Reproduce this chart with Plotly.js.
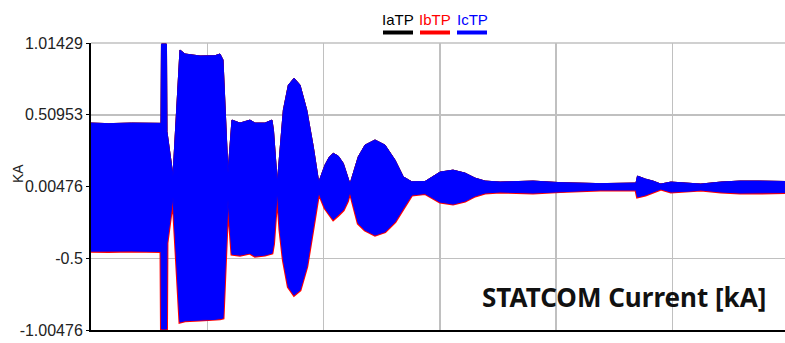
<!DOCTYPE html>
<html>
<head>
<meta charset="utf-8">
<script src="https://cdn.plot.ly/plotly-3.0.1.min.js"></script>
<style>html,body{margin:0;padding:0;background:#fff;}#chart{width:785px;height:343px;}</style>
</head>
<body>
<div id="chart"></div>
<script>
// time axis (grid units, one vertical gridline per unit)
var time = [0, 0.15, 0.35, 0.602, 0.606, 0.649, 0.653, 0.705, 0.765, 0.808, 0.937, 1.066, 1.109, 1.135, 1.178,
  1.212, 1.281, 1.367, 1.410, 1.496, 1.556, 1.569, 1.602, 1.625, 1.654, 1.697, 1.746, 1.797, 1.855, 1.911, 1.958,
  2.012, 2.048, 2.083, 2.126, 2.169, 2.205, 2.227, 2.298, 2.356, 2.442, 2.528, 2.614, 2.685, 2.758, 2.872, 3.001, 3.113,
  3.216, 3.302, 3.388, 3.517, 3.801, 4.033, 4.377, 4.686, 4.699, 4.767, 4.832, 4.900, 4.986, 5.158, 5.244,
  5.416, 5.580, 5.752, 5.967];
// upper envelope of the three phase currents [kA]
var envUpper = [0.451, 0.447, 0.451, 0.449, 1.007, 1.007, 0.391, 0.08, 0.965, 0.937, 0.923, 0.925, 0.937, 0.895, 0.10,
  0.472, 0.451, 0.472, 0.451, 0.451, 0.472, 0.40, 0.03, 0.261, 0.543, 0.719, 0.766, 0.719, 0.543, 0.285, 0.035,
  0.156, 0.211, 0.238, 0.219, 0.168, 0.085, 0.022, 0.214, 0.296, 0.332, 0.296, 0.191, 0.073, 0.038, 0.040, 0.106, 0.120,
  0.099, 0.064, 0.043, 0.036, 0.043, 0.032, 0.025, 0.029, 0.078, 0.057, 0.043, 0.022, 0.036, 0.029, 0.022,
  0.036, 0.043, 0.043, 0.040];
// lower envelope of the three phase currents [kA]
var envLower = [-0.450, -0.452, -0.449, -0.452, -0.998, -0.998, -0.393, -0.07, -0.949, -0.940, -0.935, -0.930, -0.925, -0.921, -0.09,
  -0.471, -0.478, -0.464, -0.485, -0.478, -0.464, -0.40, -0.03, -0.302, -0.513, -0.701, -0.759, -0.724, -0.560, -0.279, -0.038,
  -0.147, -0.189, -0.227, -0.196, -0.161, -0.098, -0.032, -0.255, -0.302, -0.337, -0.314, -0.243, -0.149, -0.055, -0.045, -0.105, -0.119,
  -0.098, -0.062, -0.041, -0.034, -0.041, -0.031, -0.020, -0.020, -0.069, -0.055, -0.034, -0.013, -0.034, -0.027, -0.020,
  -0.034, -0.041, -0.041, -0.038];

var seriesNames = ['IaTP', 'IbTP', 'IcTP'];
var seriesColors = ['#000000', '#ff0000', '#0000ff'];
var yTickVals = [1.01429, 0.50953, 0.00476, -0.5, -1.00476];
var yTickText = ['1.01429', '0.50953', '0.00476', '-0.5', '-1.00476'];

function band(i, lw) {
  var xs = time.concat(time.slice().reverse());
  var ys = envUpper.concat(envLower.slice().reverse());
  return {x: xs, y: ys, type: 'scatter', mode: 'lines', fill: 'toself', fillcolor: seriesColors[i],
    line: {color: seriesColors[i], width: lw}, name: seriesNames[i], hoverinfo: 'skip'};
}
var traces = [
  band(0, 1),
  band(1, 1),
  {x: time, y: envLower, type: 'scatter', mode: 'lines', line: {color: seriesColors[1], width: 3}, hoverinfo: 'skip'},
  band(2, 1)
];

var L = 91, R = 785, T = 43, B = 330;
function px(x) { return (x - L) / (R - L); }
function py(y) { return (B - y) / (B - T); }

var legendX = [398, 435, 472];
var legendBarL = [383, 420, 457];
var annotations = [];
var shapes = [];
for (var i = 0; i < 3; i++) {
  annotations.push({xref: 'paper', yref: 'paper', x: px(legendX[i]), y: py(19.5), text: seriesNames[i], showarrow: false,
    xanchor: 'center', yanchor: 'middle', font: {family: 'Liberation Sans, sans-serif', size: 15, color: seriesColors[i]}});
  shapes.push({type: 'rect', xref: 'paper', yref: 'paper', x0: px(legendBarL[i]), x1: px(legendBarL[i] + 30), y0: py(34.5), y1: py(30.5),
    fillcolor: seriesColors[i], line: {width: 0}});
}
annotations.push({xref: 'paper', yref: 'paper', x: px(18), y: py(174), text: 'KA', textangle: -90, showarrow: false,
  xanchor: 'center', yanchor: 'middle', font: {family: 'Liberation Sans, sans-serif', size: 14, color: '#222'}});
annotations.push({xref: 'paper', yref: 'paper', x: px(624), y: py(297), text: '<b>STATCOM Current [kA]</b>', showarrow: false,
  xanchor: 'center', yanchor: 'middle', font: {family: 'Noto Sans, sans-serif', size: 26, color: '#111'}});
shapes.push({type: 'line', xref: 'paper', yref: 'paper', x0: 0, x1: 1, y0: 1, y1: 1, line: {color: '#c0c0c0', width: 1.5}, layer: 'below'});

var layout = {
  width: 785, height: 343,
  margin: {l: L, r: 785 - R, t: T, b: 343 - B, pad: 0},
  paper_bgcolor: '#fff', plot_bgcolor: '#fff',
  showlegend: false,
  xaxis: {range: [0, (R - L) / 116.3], dtick: 1, tick0: 0, showgrid: true, gridcolor: '#c0c0c0', gridwidth: 1.5,
    showticklabels: false, ticks: '', zeroline: false, showline: true, linecolor: '#000', linewidth: 2},
  yaxis: {range: [-1.00476, 1.01429], tickmode: 'array', tickvals: yTickVals, ticktext: yTickText,
    showgrid: true, gridcolor: '#c0c0c0', gridwidth: 1.5, zeroline: false, showline: true, linecolor: '#000', linewidth: 2,
    ticks: 'outside', ticklen: 3, tickcolor: '#000',
    tickfont: {family: 'Liberation Sans Narrow, Liberation Sans, sans-serif', size: 16, color: '#222'}},
  annotations: annotations,
  shapes: shapes
};
Plotly.newPlot('chart', traces, layout, {staticPlot: true, displayModeBar: false});
</script>
</body>
</html>
